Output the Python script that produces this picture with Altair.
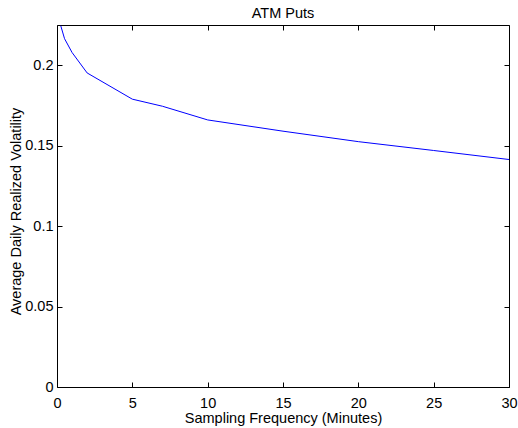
import altair as alt
import pandas as pd

# Data
minutes = [0.25, 0.5, 1, 2, 5, 7, 10, 15, 20, 25, 30]
volatility = [0.2245, 0.2165, 0.2079, 0.1952, 0.1789, 0.1745, 0.1660, 0.1590, 0.1525, 0.1470, 0.1414]
x_ticks = [0, 5, 10, 15, 20, 25, 30]
y_ticks = [0, 0.05, 0.1, 0.15, 0.2]

W, H = 452, 362
X_MAX, Y_MAX = 30, 0.225
FONT = "Liberation Sans"
FS = 14.5
TL = 5  # inward tick length in pixels

df = pd.DataFrame({"m": minutes, "v": volatility})

xscale = alt.Scale(domain=[0, X_MAX], nice=False, zero=False)
yscale = alt.Scale(domain=[0, Y_MAX], nice=False, zero=False)

common = dict(domain=False, grid=False, tickSize=TL, offset=-TL, tickColor="black",
              tickWidth=1, labelFlush=False, format="~g")

xaxis = alt.Axis(
    orient="bottom", values=x_ticks, title="Sampling Frequency (Minutes)", labelPadding=9,
    labelFont=FONT, labelFontSize=FS, labelColor="black",
    titleFont=FONT, titleFontSize=FS, titleFontWeight="normal", titleColor="black",
    titleBaseline="alphabetic", titleY=35 + TL, **common)
yaxis = alt.Axis(
    orient="left", values=y_ticks, title="Average Daily Realized Volatility", labelPadding=4,
    labelFont=FONT, labelFontSize=FS, labelColor="black",
    titleFont=FONT, titleFontSize=FS, titleFontWeight="normal", titleColor="black",
    titleBaseline="alphabetic", titleX=-37 - TL, titleY=186, titleAngle=-90, **common)
xaxis_top = alt.Axis(orient="top", values=x_ticks, title=None, labels=False, **common)
yaxis_right = alt.Axis(orient="right", values=y_ticks, title=None, labels=False, **common)

line = alt.Chart(df).mark_line(color="#0000ff", strokeWidth=1, clip=True).encode(
    x=alt.X("m:Q", scale=xscale, axis=xaxis),
    y=alt.Y("v:Q", scale=yscale, axis=yaxis),
)
frame_axes = alt.Chart(df).mark_line(color="#0000ff", strokeOpacity=0, clip=True).encode(
    x=alt.X("m:Q", scale=xscale, axis=xaxis_top),
    y=alt.Y("v:Q", scale=yscale, axis=yaxis_right),
)

chart = alt.layer(line, frame_axes).resolve_axis(x="independent", y="independent").properties(
    width=W, height=H,
    background="white",
    title=alt.TitleParams("ATM Puts", font=FONT, fontSize=FS, fontWeight="normal",
                          color="black", anchor="middle", baseline="alphabetic",
                          offset=9, frame="group", dy=17),
    autosize=alt.AutoSizeParams(type="none"),
    padding={"left": 57, "top": 25, "right": 9, "bottom": 41},
).configure_view(stroke="black", strokeWidth=1)

chart.save("out.html", embed_options={"renderer": "svg", "actions": False})
